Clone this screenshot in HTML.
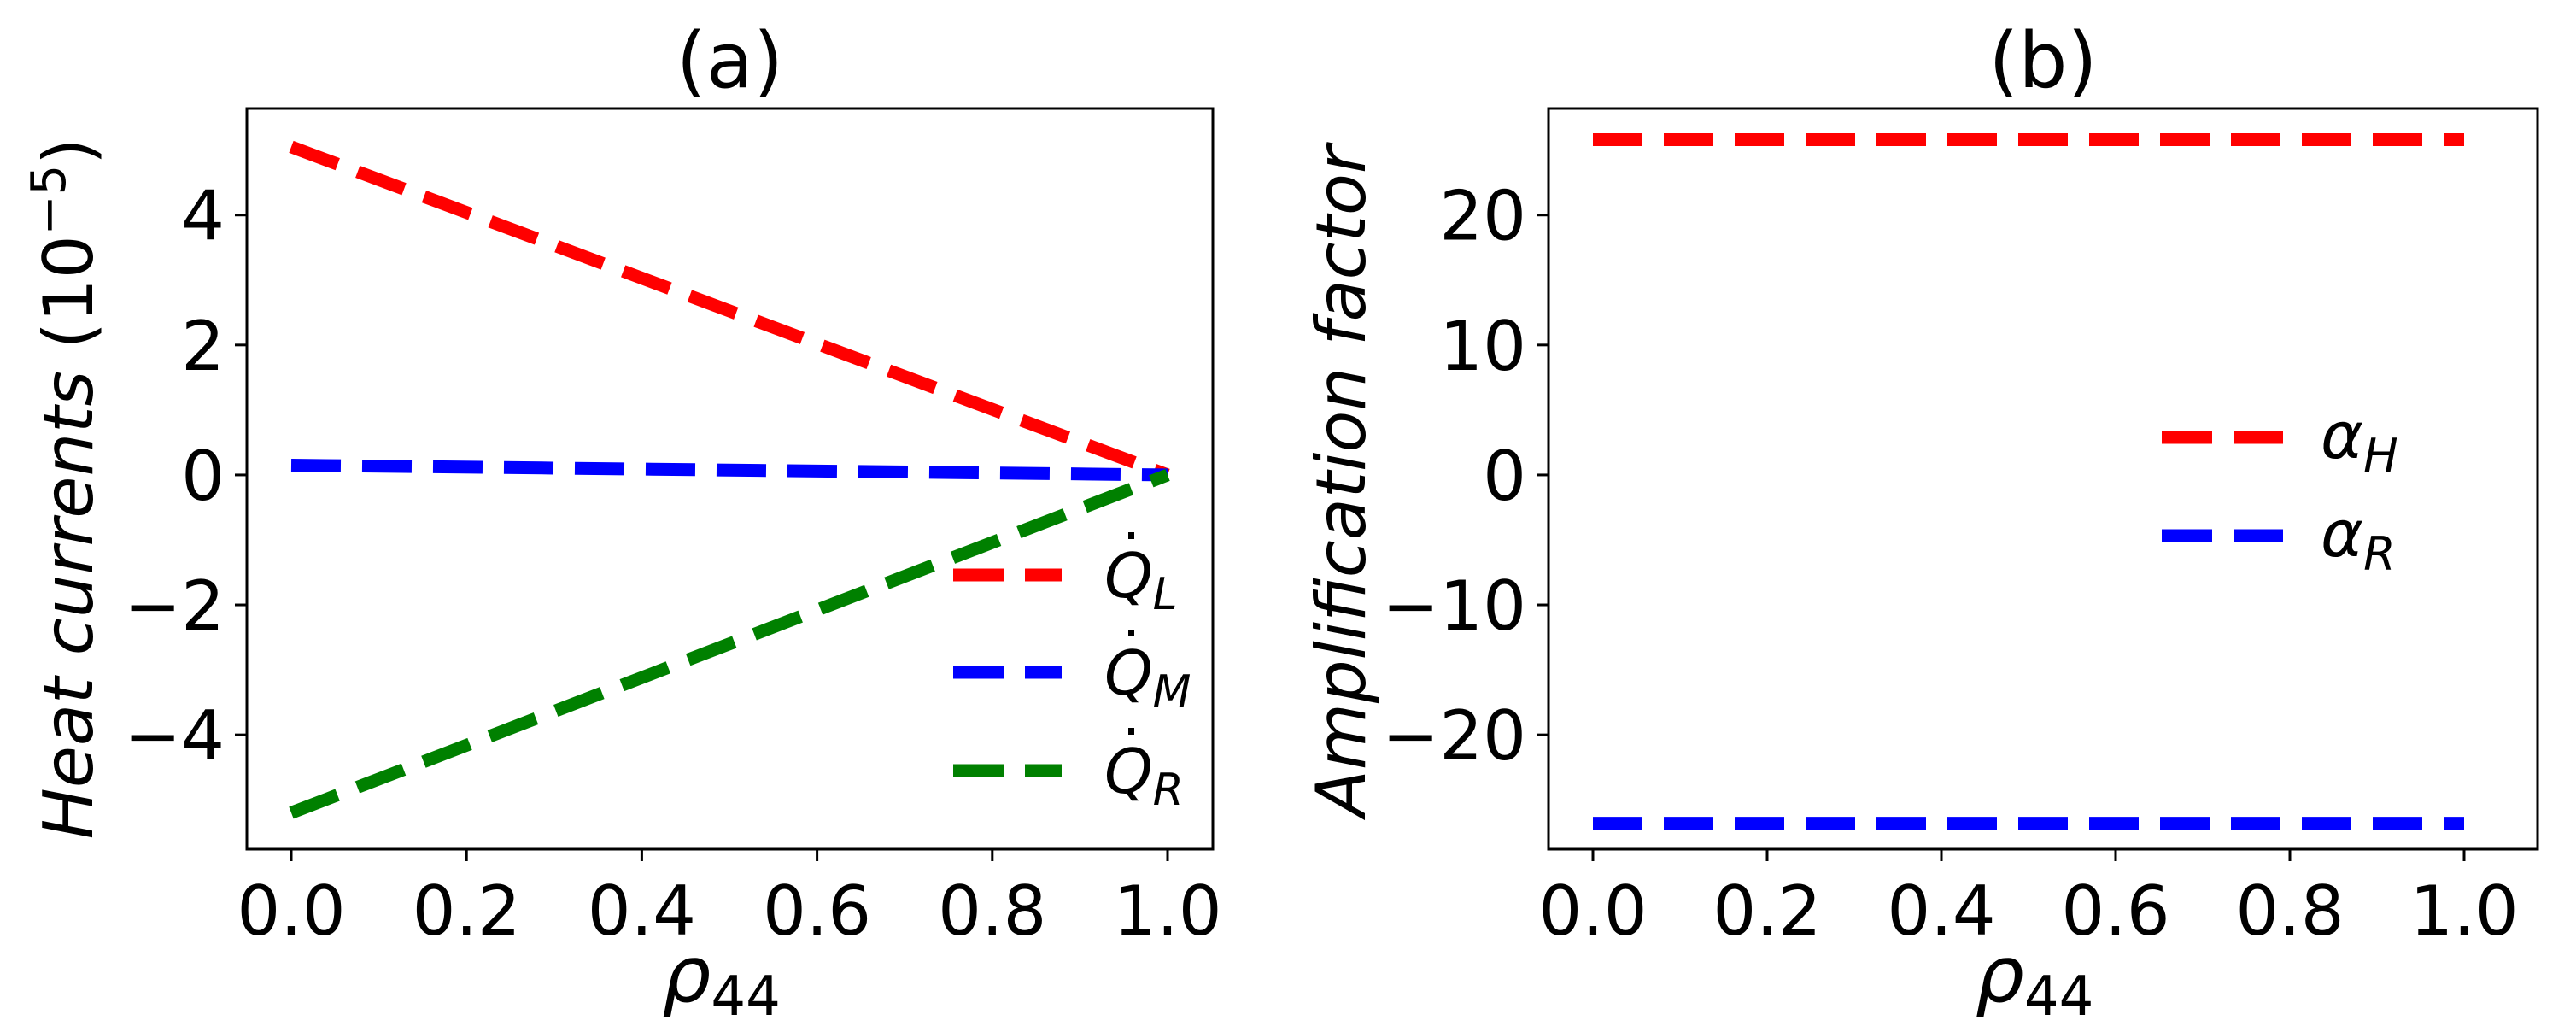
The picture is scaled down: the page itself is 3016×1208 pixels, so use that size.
<!DOCTYPE html>
<html><head><meta charset="utf-8"><style>
html,body{margin:0;padding:0;background:#fff;}
svg{display:block;font-family:"DejaVu Sans","Liberation Sans",sans-serif;}
</style></head><body>
<svg id="fig" width="3016" height="1208" viewBox="0 0 3016 1208" xmlns="http://www.w3.org/2000/svg">
<rect width="3016" height="1208" fill="#fff"/>
<g id="pa"></g>
<g id="pb"></g>
</svg>
<script>
var xTicks = [0, 0.2, 0.4, 0.6, 0.8, 1.0];
var xTickLabels = ["0.0","0.2","0.4","0.6","0.8","1.0"];
var aYTicks = [-4, -2, 0, 2, 4];
var aYTickLabels = ["\u22124","\u22122","0","2","4"];
var bYTicks = [-20, -10, 0, 10, 20];
var bYTickLabels = ["\u221220","\u221210","0","10","20"];
var rho = [0, 1];
var qL = [5.05, 0.0];
var qM = [0.15, 0.0];
var qR = [-5.2, 0.0];
var alphaH = [25.8, 25.8];
var alphaR = [-26.8, -26.8];

var NS = "http://www.w3.org/2000/svg";
function mk(parent, tag, attrs, text) {
  var e = document.createElementNS(NS, tag);
  for (var k in attrs) e.setAttribute(k, attrs[k]);
  if (text !== undefined) e.textContent = text;
  parent.appendChild(e);
  return e;
}
function scaleX(box, v) { return box.x0 + v * (box.x1 - box.x0); }
function scaleY(box, v) { return box.b - (v - box.yMin) / (box.yMax - box.yMin) * (box.b - box.t); }

function drawPanel(g, box, yTicks, yLabels, series, title) {
  var i, v;
  for (i = 0; i < xTicks.length; i++) {
    v = scaleX(box, xTicks[i]);
    var t = mk(g, "line", {x1: v, x2: v, y1: box.b, y2: box.b + 14, stroke: "#000", "stroke-width": 3});
    
    
    var l = mk(g, "text", {x: v, y: box.b + 100, "font-size": 80, "text-anchor": "middle"}, xTickLabels[i]);
    
    
  }
  for (i = 0; i < yTicks.length; i++) {
    v = scaleY(box, yTicks[i]);
    var t2 = mk(g, "line", {x1: box.l - 14, x2: box.l, y1: v, y2: v, stroke: "#000", "stroke-width": 3});
    
    
    var l2 = mk(g, "text", {x: box.l - 26, y: v + 29, "font-size": 80, "text-anchor": "end"}, yLabels[i]);
    
    
  }
  var clip = "clip" + title;
  var cp = mk(g, "clipPath", {id: clip});
  mk(cp, "rect", {x: box.l, y: box.t, width: box.r - box.l, height: box.b - box.t});
  for (i = 0; i < series.length; i++) {
    var s = series[i];
    var pts = [];
    for (var j = 0; j < rho.length; j++) pts.push(scaleX(box, rho[j]) + "," + scaleY(box, s.v[j]));
    var p = mk(g, "polyline", {points: pts.join(" "), fill: "none", stroke: s.c, "stroke-width": 15, "stroke-dasharray": "58 25", "clip-path": "url(#" + clip + ")"});
    
    
  }
  var f = mk(g, "rect", {x: box.l, y: box.t, width: box.r - box.l, height: box.b - box.t, fill: "none", stroke: "#000", "stroke-width": 3});
  
  
  var tt = mk(g, "text", {x: (box.l + box.r) / 2, y: 102, "font-size": 90, "text-anchor": "middle"}, "(" + title + ")");
  
  
  var xl = mk(g, "text", {x: (box.l + box.r) / 2 - 10, y: 1172, "font-size": 90, "text-anchor": "middle", "font-style": "italic"});
  
  
  mk(xl, "tspan", {}, "\u03C1");
  mk(xl, "tspan", {"font-size": 64, "font-style": "normal", dy: 16}, "44");
}

var ga = document.getElementById("pa");
var boxA = {l: 289, r: 1420, t: 127, b: 994, x0: 341, x1: 1367, yMin: -5.76, yMax: 5.64};
drawPanel(ga, boxA, aYTicks, aYTickLabels, [
  {v: qL, c: "#ff0000", name: "series-q-l"},
  {v: qM, c: "#0000ff", name: "series-q-m"},
  {v: qR, c: "#008000", name: "series-q-r"}
], "a");
var yla = mk(ga, "text", {transform: "translate(108,572) rotate(-90)", "font-size": 80, "text-anchor": "middle"});


mk(yla, "tspan", {"font-style": "italic"}, "Heat currents ");
mk(yla, "tspan", {}, "(10");
mk(yla, "tspan", {"font-size": 56, dy: -32}, "\u22125");
mk(yla, "tspan", {dy: 32}, ")");

var legA = mk(ga, "g", {});


[["#ff0000", "L", 673], ["#0000ff", "M", 787], ["#008000", "R", 902]].forEach(function (d) {
  var e = mk(legA, "g", {});
  
  
  mk(e, "line", {x1: 1116, x2: 1243, y1: d[2], y2: d[2], stroke: d[0], "stroke-width": 15, "stroke-dasharray": "59 25"});
  mk(e, "rect", {x: 1321, y: d[2] - 50, width: 7, height: 8, fill: "#000"});
  var t = mk(e, "text", {x: 1293, y: d[2] + 26, "font-size": 72, "font-style": "italic"});
  mk(t, "tspan", {}, "Q");
  mk(t, "tspan", {"font-size": 52, dy: 14}, d[1]);
});

var gb = document.getElementById("pb");
var boxB = {l: 1813, r: 2971, t: 127, b: 994, x0: 1865, x1: 2885, yMin: -28.8, yMax: 28.2};
drawPanel(gb, boxB, bYTicks, bYTickLabels, [
  {v: alphaH, c: "#ff0000", name: "series-alpha-h"},
  {v: alphaR, c: "#0000ff", name: "series-alpha-r"}
], "b");
var ylb = mk(gb, "text", {transform: "translate(1598,563) rotate(-90)", "font-size": 80, "text-anchor": "middle", "font-style": "italic"}, "Amplification factor");



var legB = mk(gb, "g", {});


[["#ff0000", "H", 512], ["#0000ff", "R", 627]].forEach(function (d) {
  var e = mk(legB, "g", {});
  
  
  mk(e, "line", {x1: 2531, x2: 2673, y1: d[2], y2: d[2], stroke: d[0], "stroke-width": 15, "stroke-dasharray": "59 25"});
  var t = mk(e, "text", {x: 2717, y: d[2] + 24, "font-size": 76, "font-style": "italic"});
  mk(t, "tspan", {}, "\u03B1");
  mk(t, "tspan", {"font-size": 54, dy: 16}, d[1]);
});
</script>
</body></html>
